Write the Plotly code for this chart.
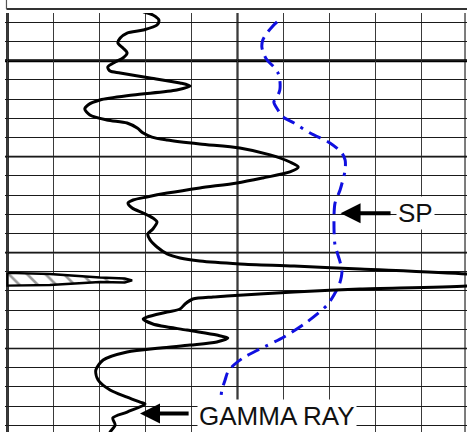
import plotly.graph_objects as go

# Gamma ray curve (chart divisions 0-10 across, depth in grid rows)
gr_x = [2.95, 3.16, 3.29, 3.25, 2.95, 2.60, 2.45, 2.40, 2.51, 2.60, 2.51, 2.34, 2.18, 2.23, 2.45,
        3.10, 3.75, 3.97, 3.68, 2.73, 2.01, 1.75, 1.68, 1.79, 2.16, 2.60, 2.82, 2.95, 3.14, 3.47,
        4.18, 5.05, 5.71, 6.14, 6.32, 6.14, 5.55, 4.99, 4.18, 3.47, 3.03, 2.73, 2.62, 2.71, 2.95,
        3.16, 3.25, 3.16, 3.05, 3.10, 3.25, 3.47, 3.75, 4.18, 5.05, 6.23, 7.66, 9.99, 11.58,
        9.99, 7.66, 6.23, 4.77, 4.47, 4.03, 3.86, 3.75, 3.47, 3.03, 2.95, 3.16, 3.90, 4.55, 4.79,
        4.55, 3.97, 3.32, 2.60, 2.08, 1.92, 1.97, 2.23, 2.60, 2.88, 2.99, 2.60, 2.29, 2.34, 2.23, 2.18]
gr_depth = [0.45, 0.62, 0.88, 1.14, 1.40, 1.56, 1.82, 2.08, 2.34, 2.60, 2.86, 3.07, 3.33, 3.54, 3.64,
            3.90, 4.16, 4.32, 4.53, 4.79, 5.05, 5.31, 5.52, 5.83, 6.09, 6.25, 6.51, 6.77, 6.98, 7.13,
            7.34, 7.55, 7.91, 8.28, 8.54, 8.80, 9.11, 9.37, 9.63, 9.90, 10.10, 10.26, 10.42, 10.68, 10.94,
            11.20, 11.41, 11.77, 12.03, 12.34, 12.71, 13.07, 13.28, 13.44, 13.59, 13.70, 13.86, 14.12, 14.43,
            14.74, 14.90, 15.05, 15.26, 15.31, 15.42, 15.68, 15.94, 16.10, 16.36, 16.46, 16.72, 17.04, 17.30, 17.45,
            17.66, 17.82, 17.97, 18.18, 18.60, 19.12, 19.64, 20.16, 20.53, 20.79, 20.89, 21.31, 21.62, 21.99, 22.35, 22.56]

# SP curve
sp_x = [5.86, 5.75, 5.64, 5.55, 5.53, 5.58, 5.64, 5.79, 5.88, 5.92, 5.92, 5.86, 5.79, 5.88, 5.99,
        6.23, 6.58, 7.01, 7.27, 7.34, 7.34, 7.29, 7.23, 7.12, 7.10, 7.10, 7.12, 7.23, 7.27, 7.21,
        7.12, 6.95, 6.51, 6.01, 5.49, 5.12, 4.92, 4.79, 4.73, 4.66, 4.64, 4.66, 4.75, 4.88]
sp_depth = [0.98, 1.24, 1.56, 1.92, 2.29, 2.70, 2.96, 3.33, 3.64, 4.01, 4.53, 4.89, 5.15, 5.57, 5.93,
            6.25, 6.77, 7.29, 7.81, 8.18, 8.70, 9.22, 9.74, 10.42, 10.94, 11.93, 12.60, 13.49, 14.01, 14.69,
            15.11, 15.73, 16.62, 17.40, 18.02, 18.49, 18.86, 19.22, 19.64, 20.16, 20.68, 21.31, 21.83, 22.35]

# Hatched wedge
wedge_x = [0.0, 0.92, 2.01, 2.55, 2.71, 2.55, 2.01, 0.92, 0.0, 0.0]
wedge_depth = [14.06, 14.12, 14.30, 14.35, 14.45, 14.56, 14.53, 14.69, 14.72, 14.06]

labels = ["SP", "GAMMA RAY"]
label_x = [8.87, 5.85]
label_depth = [10.94, 21.49]
arrow_tip_x = [7.24, 2.88]
arrow_tail_x = [8.36, 3.97]
arrow_depth = [10.95, 21.38]

fig = go.Figure()

fig.add_trace(go.Scatter(
    x=wedge_x, y=wedge_depth, mode="lines", fill="toself", fillcolor="white",
    fillpattern=dict(shape="\\", fgcolor="#333333", bgcolor="white", size=13, solidity=0.2),
    line=dict(color="black", width=2.4), hoverinfo="skip"))

fig.add_trace(go.Scatter(
    x=sp_x, y=sp_depth, mode="lines",
    line=dict(color="#1010e0", width=3, dash="13px,7px,13px,7px,13px,7px,3px,7px", shape="spline", smoothing=0.8),
    hoverinfo="skip"))

fig.add_trace(go.Scatter(
    x=gr_x, y=gr_depth, mode="lines",
    line=dict(color="black", width=3, shape="spline", smoothing=0.8),
    hoverinfo="skip"))

shapes = []
# heavy grid lines
shapes.append(dict(type="line", xref="x", yref="paper", x0=0, x1=0, y0=0, y1=1,
                   line=dict(color="black", width=2.6), layer="between"))
shapes.append(dict(type="line", xref="x", yref="paper", x0=5, x1=5, y0=0, y1=1,
                   line=dict(color="black", width=2), layer="between"))
shapes.append(dict(type="line", xref="paper", yref="paper", x0=0.9957, x1=0.9957, y0=0, y1=1,
                   line=dict(color="#444", width=1.4), layer="between"))
shapes.append(dict(type="line", xref="paper", yref="y", x0=0, x1=1, y0=3, y1=3,
                   line=dict(color="black", width=3), layer="between"))
for d in [8, 13, 18]:
    shapes.append(dict(type="line", xref="paper", yref="y", x0=0, x1=1, y0=d, y1=d,
                       line=dict(color="black", width=1.6), layer="between"))
# header box above
shapes.append(dict(type="line", xref="paper", yref="paper", x0=0.0032, x1=1.02, y0=1.0095, y1=1.0095,
                   line=dict(color="#333", width=2)))
shapes.append(dict(type="line", xref="paper", yref="paper", x0=0.0032, x1=0.0032, y0=1.0095, y1=1.05,
                   line=dict(color="#555", width=1.2)))

annotations = []
for i in range(2):
    annotations.append(dict(x=arrow_tip_x[i], y=arrow_depth[i], xref="x", yref="y",
                            ax=arrow_tail_x[i], ay=arrow_depth[i], axref="x", ayref="y",
                            text="", showarrow=True, arrowhead=2, arrowsize=1.0,
                            arrowwidth=4, arrowcolor="black", standoff=0, startstandoff=0))
    annotations.append(dict(x=label_x[i], y=label_depth[i], xref="x", yref="y",
                            text=labels[i], showarrow=False, xanchor="center", yanchor="middle",
                            font=dict(family="Liberation Sans, Arial", size=26, color="#111"),
                            bgcolor="white", borderpad=1))

fig.update_layout(
    width=467, height=432,
    margin=dict(l=5, r=0, t=13, b=0, autoexpand=False),
    paper_bgcolor="white", plot_bgcolor="white",
    showlegend=False,
    shapes=shapes, annotations=annotations,
    xaxis=dict(range=[-0.0543, 9.989], tick0=0, dtick=1, showgrid=True, gridcolor="#3a3a3a",
               gridwidth=1.4, zeroline=False, showticklabels=False, ticks="", showline=False, fixedrange=True,
               automargin=False),
    yaxis=dict(range=[22.35, 0.515], tick0=0, dtick=1, showgrid=True, gridcolor="#1a1a1a",
               gridwidth=1.4, zeroline=False, showticklabels=False, ticks="", showline=False, fixedrange=True,
               automargin=False),
)

fig.write_html("out.html", config={"displayModeBar": False},
               post_script="document.body.style.margin='0';document.body.style.padding='0';")
